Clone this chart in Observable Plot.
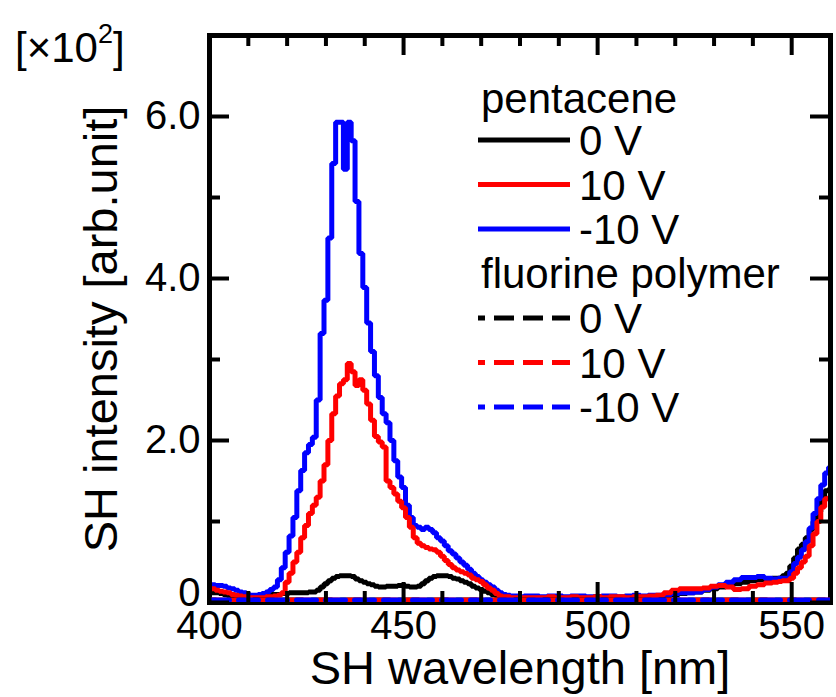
<!DOCTYPE html>
<html>
<head>
<meta charset="utf-8">
<script src="https://cdn.jsdelivr.net/npm/d3@7"></script>
<script src="https://cdn.jsdelivr.net/npm/@observablehq/plot@0.6"></script>
<style>
  html, body { margin: 0; padding: 0; background: #fff; }
  #chart { width: 836px; height: 697px; }
</style>
</head>
<body>
<div id="chart"></div>
<script>
// ---------- data (values in units of x10^2) ----------
const wavelength = [
  400,401,402,403,404,405,406,407,408,409,
  410,411,412,413,414,415,416,417,418,419,
  420,421,422,423,424,425,426,427,428,429,
  430,431,432,433,434,435,436,437,438,439,
  440,441,442,443,444,445,446,447,448,449,
  450,451,452,453,454,455,456,457,458,459,
  460,461,462,463,464,465,466,467,468,469,
  470,471,472,473,474,475,476,477,478,479,
  480,
  482,484,486,488,490,492,494,496,498,500,
  502,504,506,508,510,512,514,516,518,520,
  522,524,526,528,530,532,534,536,538,540,
  542,544,546,
  547,548,549,550,551,552,553,554,555,556,557,558,559,560
];
const pentacene0V = [
  0.13,0.12,0.12,0.11,0.10,0.09,0.08,0.07,0.06,0.06,
  0.06,0.06,0.07,0.07,0.08,0.09,0.10,0.10,0.10,0.11,
  0.11,0.12,0.12,0.12,0.12,0.12,0.13,0.13,0.15,0.19,
  0.23,0.27,0.30,0.32,0.33,0.33,0.33,0.32,0.29,0.27,
  0.25,0.23,0.22,0.20,0.19,0.19,0.20,0.20,0.20,0.21,
  0.21,0.20,0.19,0.19,0.20,0.23,0.27,0.30,0.32,0.33,
  0.33,0.33,0.32,0.30,0.29,0.27,0.25,0.23,0.20,0.18,
  0.16,0.14,0.12,0.10,0.09,0.08,0.07,0.07,0.07,0.06,
  0.06,
  0.06,0.06,0.06,0.06,0.07,0.06,0.06,0.06,0.06,0.07,
  0.06,0.06,0.06,0.07,0.07,0.07,0.08,0.08,0.09,0.10,
  0.11,0.12,0.13,0.15,0.17,0.19,0.21,0.23,0.25,0.27,
  0.28,0.29,0.30,
  0.30,0.33,0.36,0.45,0.55,0.66,0.72,0.80,0.90,1.00,1.12,1.25,1.38,1.40
];
const pentacene10V = [
  0.17,0.17,0.15,0.14,0.13,0.12,0.10,0.09,0.08,0.07,
  0.06,0.06,0.06,0.06,0.06,0.07,0.07,0.08,0.09,0.12,
  0.25,0.36,0.50,0.62,0.80,0.95,1.10,1.20,1.30,1.50,
  1.70,2.00,2.33,2.55,2.70,2.75,2.95,2.85,2.68,2.75,
  2.62,2.45,2.25,2.05,1.98,1.92,1.50,1.42,1.34,1.25,
  1.17,1.05,0.93,0.80,0.73,0.70,0.68,0.66,0.65,0.62,
  0.57,0.52,0.47,0.43,0.40,0.38,0.36,0.34,0.30,0.28,
  0.26,0.22,0.18,0.15,0.11,0.08,0.07,0.07,0.06,0.06,
  0.06,
  0.06,0.06,0.06,0.07,0.06,0.06,0.07,0.06,0.06,0.07,
  0.06,0.07,0.07,0.06,0.07,0.07,0.08,0.09,0.12,0.15,
  0.17,0.17,0.17,0.18,0.20,0.21,0.19,0.16,0.17,0.20,
  0.22,0.24,0.25,
  0.26,0.27,0.27,0.30,0.36,0.43,0.50,0.57,0.70,0.85,1.00,1.18,1.28,1.30
];
const pentaceneM10V = [
  0.22,0.22,0.21,0.21,0.20,0.18,0.17,0.15,0.13,0.12,
  0.10,0.09,0.09,0.10,0.11,0.13,0.16,0.19,0.28,0.43,
  0.62,0.82,1.05,1.38,1.63,1.85,1.95,2.04,2.50,3.32,
  3.73,4.50,5.42,5.93,5.93,5.35,5.93,5.70,4.95,4.31,
  3.89,3.45,3.10,2.80,2.53,2.33,2.22,2.00,1.75,1.55,
  1.42,1.20,1.05,0.95,0.93,0.90,0.93,0.90,0.86,0.80,
  0.76,0.70,0.64,0.60,0.55,0.50,0.46,0.41,0.36,0.32,
  0.28,0.25,0.22,0.19,0.15,0.12,0.10,0.09,0.08,0.08,
  0.07,
  0.08,0.08,0.07,0.08,0.08,0.07,0.08,0.08,0.07,0.07,
  0.08,0.08,0.07,0.08,0.09,0.08,0.09,0.09,0.10,0.11,
  0.12,0.12,0.13,0.16,0.19,0.22,0.25,0.28,0.31,0.31,
  0.32,0.30,0.29,
  0.30,0.30,0.30,0.38,0.48,0.56,0.65,0.75,0.92,1.10,1.28,1.45,1.60,1.67
];
// fluorine polymer: flat near zero across the range
const fluorineWavelength = [400, 440, 480, 520, 560];
const fluorine0V   = [0.03, 0.03, 0.03, 0.03, 0.03];
const fluorine10V  = [0.03, 0.03, 0.03, 0.03, 0.03];
const fluorineM10V = [0.03, 0.03, 0.03, 0.03, 0.03];

const xTickLabels = [400, 450, 500, 550];
const xMinorTicks = [410, 420, 430, 440, 460, 470, 480, 490, 510, 520, 530, 540];
const yTickLabels = [0, 2, 4, 6];
const yMinorTicks = [1, 3, 5];

const colors = {"0 V": "#000000", "10 V": "#ff0000", "-10 V": "#0000ff"};
const legendGroups = [
  {title: "pentacene", dashed: false, rows: ["0 V", "10 V", "-10 V"]},
  {title: "fluorine polymer", dashed: true, rows: ["0 V", "10 V", "-10 V"]}
];

// ---------- build tables ----------
const toRows = (xs, ys) => xs.map((x, i) => ({x, y: ys[i]}));
const p0 = toRows(wavelength, pentacene0V);
const p10 = toRows(wavelength, pentacene10V);
const pm10 = toRows(wavelength, pentaceneM10V);
const f0 = toRows(fluorineWavelength, fluorine0V);
const f10 = toRows(fluorineWavelength, fluorine10V);
const fm10 = toRows(fluorineWavelength, fluorineM10V);

const FONT = "Liberation Sans, Arial, Helvetica, sans-serif";
const W = 836, H = 697;
const mL = 209, mR = 6, mT = 35, mB = 95;
const innerW = W - mL - mR, innerH = H - mT - mB;
const TICK_MAJ = 20, TICK_MIN = 11, TICK_W = 4;
const LINE_W = 5;
const DASH = "20,9";

const solid = (data, color) => Plot.line(data, {x: "x", y: "y", stroke: color, strokeWidth: LINE_W, curve: "step", clip: true, strokeLinejoin: "miter", strokeLinecap: "butt"});
const dashed = (data, color, off) => Plot.line(data, {x: "x", y: "y", stroke: color, strokeWidth: LINE_W, strokeDasharray: DASH, strokeDashoffset: off, clip: true});

const svg = Plot.plot({
  width: W, height: H,
  marginLeft: mL, marginRight: mR, marginTop: mT, marginBottom: mB,
  style: {fontFamily: FONT, background: "#fff", color: "#000", overflow: "visible"},
  x: {domain: [400, 560], axis: null},
  y: {domain: [0, 7], axis: null},
  marks: [
    solid(p0, colors["0 V"]),
    solid(pm10, colors["-10 V"]),
    solid(p10, colors["10 V"]),
    Plot.frame({stroke: "#000", strokeWidth: 5}),
    dashed(f0, colors["0 V"], 14),
    dashed(f10, colors["10 V"], 7),
    dashed(fm10, colors["-10 V"], 0),
    // inward ticks: bottom & top
    Plot.ruleX(xTickLabels, {x: d => d, insetTop: innerH - TICK_MAJ, strokeWidth: TICK_W}),
    Plot.ruleX(xMinorTicks, {x: d => d, insetTop: innerH - TICK_MIN, strokeWidth: TICK_W}),
    Plot.ruleX(xTickLabels, {x: d => d, insetBottom: innerH - TICK_MAJ, strokeWidth: TICK_W}),
    Plot.ruleX(xMinorTicks, {x: d => d, insetBottom: innerH - TICK_MIN, strokeWidth: TICK_W}),
    // inward ticks: left & right
    Plot.ruleY(yTickLabels, {y: d => d, insetRight: innerW - TICK_MAJ, strokeWidth: TICK_W}),
    Plot.ruleY(yMinorTicks, {y: d => d, insetRight: innerW - TICK_MIN, strokeWidth: TICK_W}),
    Plot.ruleY(yTickLabels, {y: d => d, insetLeft: innerW - TICK_MAJ, strokeWidth: TICK_W}),
    Plot.ruleY(yMinorTicks, {y: d => d, insetLeft: innerW - TICK_MIN, strokeWidth: TICK_W}),
    // tick labels
    Plot.text(xTickLabels, {x: d => d, frameAnchor: "bottom", textAnchor: "middle", lineAnchor: "top", dy: 8, text: d => String(d), fontSize: 40, fill: "#000"}),
    Plot.text(yTickLabels.filter(d => d !== 0), {y: d => d, frameAnchor: "left", textAnchor: "end", lineAnchor: "middle", dx: -9, text: d => d.toFixed(1), fontSize: 40, fill: "#000"}),
    Plot.text(yTickLabels.filter(d => d === 0), {y: d => d, frameAnchor: "left", textAnchor: "end", lineAnchor: "middle", dx: -9, dy: -9, text: d => "0", fontSize: 40, fill: "#000"}),
    // axis titles
    Plot.text(["SH wavelength [nm]"], {frameAnchor: "bottom", textAnchor: "middle", lineAnchor: "middle", dy: 66, text: d => d, fontSize: 47, fill: "#000"}),
    Plot.text(["SH intensity [arb.unit]"], {frameAnchor: "left", textAnchor: "middle", lineAnchor: "middle", rotate: -90, dx: -108, dy: 10, text: d => d, fontSize: 47, fill: "#000"})
  ]
});

// ---------- legend & multiplier label ----------
const root = d3.select(svg);
const lg = root.append("g").attr("font-family", FONT).attr("font-size", 42)
  .attr("fill", "#000").attr("text-anchor", "start");
const headerY = [113, 288];
const firstRowY = [140, 318];
const rowStep = 44.5;
legendGroups.forEach((g, gi) => {
  lg.append("text").attr("x", 481).attr("y", headerY[gi]).text(g.title);
  g.rows.forEach((r, ri) => {
    const y = firstRowY[gi] + ri * rowStep;
    const ln = lg.append("line")
      .attr("x1", 478).attr("x2", 570).attr("y1", y).attr("y2", y)
      .attr("stroke", colors[r]).attr("stroke-width", LINE_W);
    if (g.dashed) ln.attr("stroke-dasharray", DASH).attr("stroke-dashoffset", 13);
    lg.append("text").attr("x", 579).attr("y", y).attr("dy", "0.36em").text(r);
  });
});

const mult = root.append("text").attr("x", 15).attr("y", 62).attr("text-anchor", "start")
  .attr("font-family", FONT).attr("font-size", 42).attr("fill", "#000");
mult.append("tspan").text("[×10");
mult.append("tspan").attr("dy", -19).attr("font-size", 27).text("2");
mult.append("tspan").attr("dy", 19).text("]");

document.getElementById("chart").appendChild(svg);
</script>
</body>
</html>
